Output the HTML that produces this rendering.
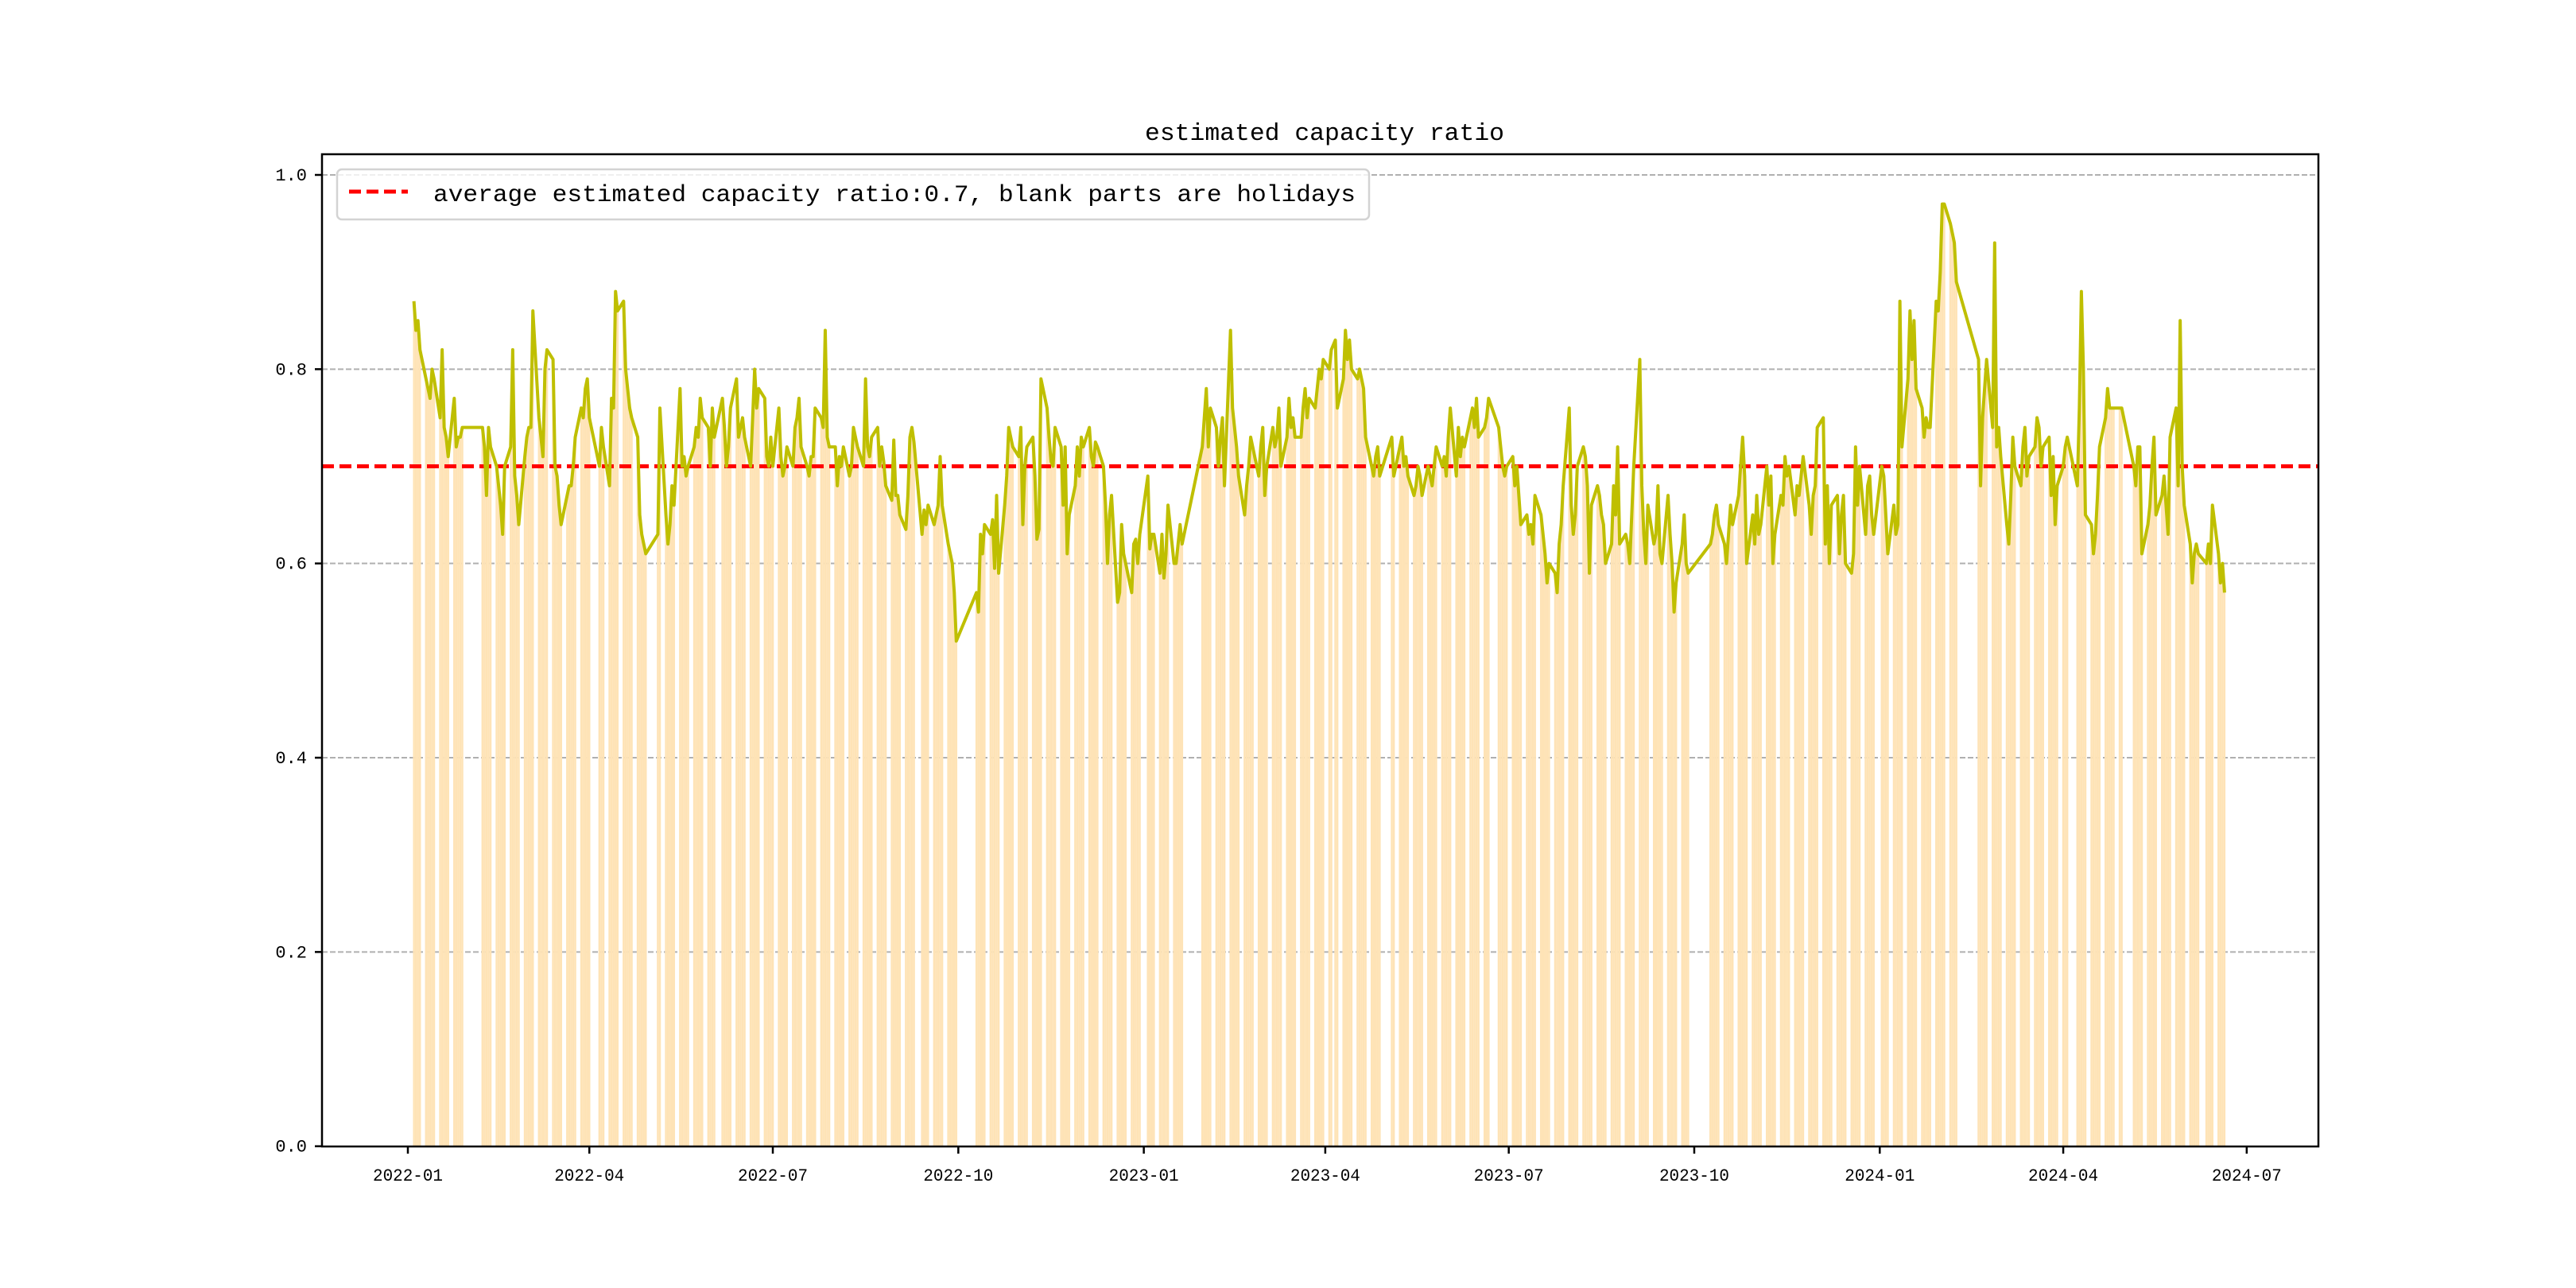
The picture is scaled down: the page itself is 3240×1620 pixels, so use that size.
<!DOCTYPE html>
<html><head><meta charset="utf-8"><style>
html,body{margin:0;padding:0;background:#fff;}
svg{display:block;}
text{font-family:"Liberation Mono","WenQuanYi Zen Hei",monospace;fill:#000;}
</style></head><body>
<svg id="chart" width="3240" height="1620" viewBox="0 0 3240 1620" xmlns="http://www.w3.org/2000/svg">
<rect x="0" y="0" width="3240" height="1620" fill="#fff"/>
<text x="1666" y="176" text-anchor="middle" font-size="31" textLength="452" lengthAdjust="spacingAndGlyphs">estimated capacity ratio</text>
<g id="grid"></g>
<defs><clipPath id="barClip"></clipPath></defs>
<g id="bars"></g>
<g id="lines"></g>
<rect x="405" y="194" width="2511" height="1248" fill="none" stroke="#000" stroke-width="2.5"/>
<g id="axes"></g>
<g>
<rect x="424" y="213" width="1298" height="63" rx="6" fill="#fff" fill-opacity="0.8" stroke="#d3d3d3" stroke-width="2.5"/>
<line x1="439" y1="241" x2="513" y2="241" stroke="#ff0000" stroke-width="5" stroke-dasharray="15,7"/>
<text x="545" y="253" font-size="30" textLength="1160" lengthAdjust="spacingAndGlyphs">average estimated capacity ratio:0.7, blank parts are holidays</text>
</g>
</svg>
<script>
const holidays = ["2022-01-03","2022-01-31","2022-02-01","2022-02-02","2022-02-03","2022-02-04","2022-04-04","2022-04-05","2022-05-02","2022-05-03","2022-05-04","2022-06-03","2022-09-12","2022-10-03","2022-10-04","2022-10-05","2022-10-06","2022-10-07","2023-01-02","2023-01-23","2023-01-24","2023-01-25","2023-01-26","2023-01-27","2023-04-05","2023-05-01","2023-05-02","2023-05-03","2023-06-22","2023-06-23","2023-09-29","2023-10-02","2023-10-03","2023-10-04","2023-10-05","2023-10-06","2024-01-01","2024-02-09","2024-02-12","2024-02-13","2024-02-14","2024-02-15","2024-02-16","2024-04-04","2024-04-05","2024-05-01","2024-05-02","2024-05-03","2024-06-10"];
const months = ["2022-01","2022-02","2022-03","2022-04","2022-05","2022-06","2022-07","2022-08","2022-09","2022-10","2022-11","2022-12","2023-01","2023-02","2023-03","2023-04","2023-05","2023-06","2023-07","2023-08","2023-09","2023-10","2023-11","2023-12","2024-01","2024-02","2024-03","2024-04","2024-05","2024-06"];
const monthlyValues = [
[0.87,0.84,0.85,0.82,0.79,0.78,0.77,0.80,0.79,0.75,0.82,0.74,0.73,0.71,0.77,0.72,0.73,0.73,0.74],
[0.74,0.72,0.67,0.74,0.72,0.70,0.68,0.66,0.63,0.70,0.72,0.82,0.69,0.67,0.64,0.71],
[0.73,0.74,0.74,0.86,0.75,0.73,0.71,0.80,0.82,0.81,0.70,0.69,0.66,0.64,0.67,0.68,0.68,0.70,0.73,0.76,0.75,0.78,0.79],
[0.75,0.70,0.74,0.72,0.68,0.77,0.76,0.88,0.86,0.87,0.80,0.78,0.76,0.75,0.73,0.65,0.63,0.62,0.61],
[0.63,0.76,0.65,0.62,0.64,0.68,0.66,0.78,0.70,0.71,0.69,0.70,0.72,0.74,0.73,0.77,0.75,0.74,0.70],
[0.76,0.73,0.77,0.74,0.70,0.72,0.76,0.79,0.73,0.74,0.75,0.73,0.70,0.75,0.80,0.76,0.78,0.77,0.71,0.70,0.73],
[0.70,0.76,0.71,0.69,0.70,0.72,0.70,0.74,0.75,0.77,0.72,0.70,0.69,0.71,0.71,0.76,0.75,0.74,0.84,0.73,0.72],
[0.72,0.68,0.71,0.70,0.72,0.69,0.70,0.74,0.73,0.72,0.70,0.79,0.72,0.71,0.73,0.74,0.70,0.72,0.705,0.68,0.665,0.727,0.67],
[0.67,0.65,0.635,0.67,0.73,0.74,0.725,0.63,0.655,0.64,0.66,0.64,0.65,0.66,0.71,0.66,0.62,0.61,0.60,0.57,0.52],
[0.57,0.55,0.63,0.61,0.64,0.63,0.645,0.595,0.67,0.59,0.66,0.69,0.74,0.73,0.72,0.71],
[0.74,0.64,0.70,0.72,0.73,0.69,0.625,0.635,0.79,0.76,0.73,0.705,0.70,0.74,0.72,0.66,0.72,0.61,0.65,0.68,0.72,0.69],
[0.73,0.72,0.74,0.71,0.70,0.725,0.72,0.70,0.66,0.60,0.65,0.67,0.56,0.57,0.64,0.61,0.60,0.57,0.62,0.625,0.60,0.63],
[0.69,0.615,0.63,0.63,0.59,0.63,0.585,0.61,0.66,0.60,0.60,0.62,0.64,0.62,0.72,0.75],
[0.78,0.72,0.76,0.74,0.70,0.73,0.75,0.68,0.84,0.76,0.74,0.72,0.69,0.65,0.68,0.70,0.73,0.72,0.69,0.72],
[0.74,0.67,0.70,0.74,0.72,0.73,0.76,0.70,0.73,0.77,0.74,0.75,0.73,0.73,0.76,0.78,0.75,0.77,0.76,0.78,0.80,0.79,0.81],
[0.80,0.82,0.83,0.76,0.79,0.84,0.81,0.83,0.80,0.79,0.80,0.79,0.78,0.73,0.70,0.69,0.71,0.72,0.69],
[0.73,0.69,0.72,0.73,0.70,0.71,0.69,0.67,0.68,0.70,0.69,0.67,0.70,0.69,0.68,0.70,0.72,0.70,0.71,0.69],
[0.73,0.76,0.69,0.74,0.71,0.73,0.72,0.75,0.76,0.74,0.77,0.73,0.74,0.75,0.77,0.74,0.72,0.70,0.69,0.70],
[0.71,0.68,0.70,0.67,0.64,0.65,0.63,0.64,0.62,0.67,0.65,0.63,0.61,0.58,0.60,0.59,0.57,0.62,0.64,0.68,0.76],
[0.66,0.63,0.65,0.70,0.72,0.71,0.68,0.59,0.66,0.68,0.67,0.65,0.64,0.60,0.62,0.68,0.65,0.72,0.62,0.63,0.62,0.60,0.65],
[0.70,0.81,0.68,0.63,0.60,0.66,0.62,0.63,0.68,0.61,0.60,0.67,0.63,0.60,0.55,0.58,0.62,0.65,0.60,0.59],
[0.62,0.63,0.65,0.66,0.64,0.62,0.60,0.63,0.66,0.64,0.67,0.70,0.73,0.69,0.60,0.65,0.62],
[0.67,0.63,0.64,0.70,0.66,0.69,0.60,0.63,0.67,0.66,0.71,0.69,0.70,0.65,0.68,0.67,0.69,0.71,0.66,0.63,0.67,0.68],
[0.74,0.75,0.62,0.68,0.60,0.66,0.67,0.61,0.65,0.67,0.60,0.59,0.61,0.72,0.66,0.70,0.63,0.68,0.69,0.65,0.63],
[0.70,0.69,0.65,0.61,0.66,0.63,0.64,0.87,0.72,0.79,0.86,0.81,0.85,0.78,0.76,0.73,0.75,0.74,0.74,0.87,0.86,0.90],
[0.97,0.97,0.95,0.94,0.93,0.89,0.81,0.68,0.75,0.78,0.81,0.74,0.93,0.72,0.74],
[0.71,0.64,0.62,0.67,0.73,0.70,0.68,0.72,0.74,0.69,0.71,0.72,0.75,0.74,0.70,0.72,0.73,0.67,0.71,0.64,0.68],
[0.70,0.72,0.73,0.68,0.76,0.88,0.80,0.65,0.64,0.61,0.63,0.67,0.72,0.75,0.78,0.76,0.76,0.76,0.76,0.76],
[0.70,0.68,0.72,0.72,0.61,0.64,0.66,0.70,0.73,0.65,0.67,0.69,0.66,0.63,0.73,0.76,0.68,0.85,0.70,0.66],
[0.62,0.58,0.61,0.62,0.61,0.60,0.62,0.60,0.66,0.61,0.58,0.60,0.57]
];
const averageRatio = 0.7;
const yTicks = [0.0,0.2,0.4,0.6,0.8,1.0];
const yTickLabels = ["0.0","0.2","0.4","0.6","0.8","1.0"];
const xTickLabels = ["2022-01","2022-04","2022-07","2022-10","2023-01","2023-04","2023-07","2023-10","2024-01","2024-04","2024-07"];
const endDate = "2024-06-20";

const NS = "http://www.w3.org/2000/svg";
const DAY = 86400000;
const T0 = Date.UTC(2022,0,1);
function dayNum(s){const p=s.split("-").map(Number);return (Date.UTC(p[0],p[1]-1,p[2]||1)-T0)/DAY;}
const PX_PER_DAY = 2.536, X0 = 513;
function xScale(d){return X0 + d*PX_PER_DAY;}
const Y0 = 1441.7, YPU = 1221.7;
function yScale(v){return Y0 - v*YPU;}
function mk(tag, attrs, parent){const e=document.createElementNS(NS,tag);for(const k in attrs)e.setAttribute(k,attrs[k]);parent.appendChild(e);return e;}

// trading days per month
const hol = new Set(holidays);
const endD = dayNum(endDate);
const pts = [];
months.forEach((m, mi) => {
  const [yy, mm] = m.split("-").map(Number);
  const days = [];
  for (let d = 1; d <= 31; d++) {
    const t = Date.UTC(yy, mm-1, d);
    const dt = new Date(t);
    if (dt.getUTCMonth() !== mm-1) break;
    const wd = dt.getUTCDay();
    const key = m + "-" + String(d).padStart(2,"0");
    const dn = (t - T0)/DAY;
    if (wd === 0 || wd === 6 || hol.has(key) || dn < 3 || dn > endD) continue;
    days.push(dn);
  }
  const vals = monthlyValues[mi];
  const n = Math.min(days.length, vals.length);
  for (let i = 0; i < n; i++) pts.push([days[i], vals[i]]);
});

// grid
const grid = document.getElementById("grid");
yTicks.forEach((t,i) => {
  if (t === 0) return;
  const g = mk("line",{x1:405,x2:2916,y1:yScale(t),y2:yScale(t),stroke:"#b0b0b0","stroke-width":2,"stroke-dasharray":"7,3"},grid);
  
  
});

// bars via clip
const clip = document.getElementById("barClip");
pts.forEach(p => {
  mk("rect",{x:xScale(p[0]-0.5),y:150,width:PX_PER_DAY,height:1300},clip);
});
const bars = document.getElementById("bars");
let dpath = "M" + xScale(pts[0][0]-0.5) + "," + Y0 + " L" + xScale(pts[0][0]-0.5) + "," + yScale(pts[0][1]);
pts.forEach(p => { dpath += " L" + xScale(p[0]).toFixed(2) + "," + yScale(p[1]).toFixed(2); });
const last = pts[pts.length-1];
dpath += " L" + xScale(last[0]+0.5) + "," + yScale(last[1]) + " L" + xScale(last[0]+0.5) + "," + Y0 + " Z";
const area = mk("path",{d:dpath,fill:"#fee3b6","clip-path":"url(#barClip)"},bars);



// lines
const lines = document.getElementById("lines");
const avg = mk("line",{x1:405,x2:2916,y1:yScale(averageRatio),y2:yScale(averageRatio),stroke:"#ff0000","stroke-width":5,"stroke-dasharray":"15,7"},lines);


const ln = mk("polyline",{points:pts.map(p=>xScale(p[0]).toFixed(2)+","+yScale(p[1]).toFixed(2)).join(" "),fill:"none",stroke:"#bfbf00","stroke-width":4,"stroke-linejoin":"round"},lines);



// axes
const axes = document.getElementById("axes");
yTicks.forEach((t,i) => {
  const y = yScale(t);
  const tk = mk("line",{x1:396,x2:405,y1:y,y2:y,stroke:"#000","stroke-width":2.5},axes);
  
  
  const lb = mk("text",{x:386,y:y+7,"text-anchor":"end","font-size":22},axes);
  lb.textContent = yTickLabels[i];
  
  
});
xTickLabels.forEach(s => {
  const x = xScale(dayNum(s+"-01"));
  const tk = mk("line",{x1:x,x2:x,y1:1442,y2:1451,stroke:"#000","stroke-width":2.5},axes);
  
  
  const lb = mk("text",{x:x,y:1485,"text-anchor":"middle","font-size":22,textLength:88,lengthAdjust:"spacingAndGlyphs"},axes);
  lb.textContent = s;
  
  
});
</script>
</body></html>
